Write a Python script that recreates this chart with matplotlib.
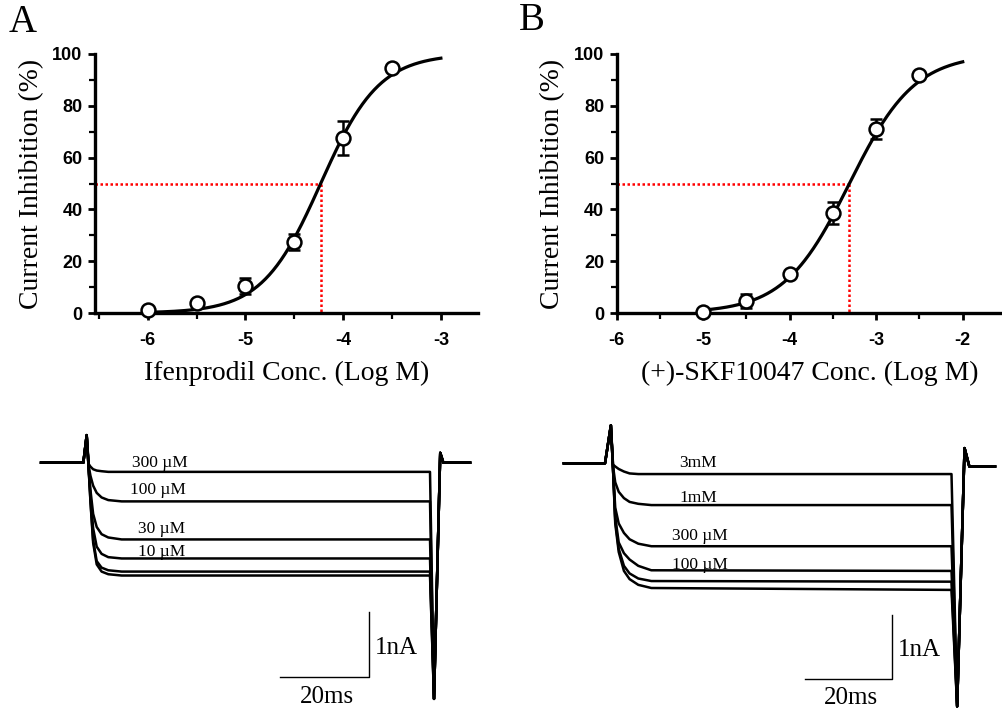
import numpy as np
import matplotlib
matplotlib.use("Agg")
import matplotlib.pyplot as plt
from matplotlib.ticker import MultipleLocator

plt.rcParams["axes.unicode_minus"] = False

# ---------------- Dose-response data ----------------
a_logc = [-6, -5.5, -5, -4.5, -4, -3.5]
a_inh = [1.3, 3.9, 10.5, 27.4, 67.5, 94.5]
a_err = [0.5, 0.8, 3.2, 3.2, 6.5, 0.8]
a_ic50 = -4.23
a_hill = 1.45
a_fit_range = [-6, -3]

b_logc = [-5, -4.5, -4, -3.5, -3, -2.5]
b_inh = [0.4, 4.5, 15.0, 38.6, 71.0, 92.0]
b_err = [0.5, 2.7, 1.0, 4.2, 3.9, 1.0]
b_ic50 = -3.31
b_hill = 1.15
b_fit_range = [-5, -2]

a_xticks = [-6, -5, -4, -3]
b_xticks = [-6, -5, -4, -3, -2]
yticks = [0, 20, 40, 60, 80, 100]

# ---------------- Current traces (ms, nA) ----------------
a_spike_t = [-10.1, -0.6, 0.15]
a_spike_v = [0.0, 0.0, 0.42]
a_tr_t = [0.6, 1.0, 1.6, 2.4, 3.5, 5.0, 8.0, 77.3]
a_ctrl = [-0.10, -0.60, -1.22, -1.55, -1.66, -1.70, -1.72, -1.72]
a_3uM = [-0.10, -0.58, -1.18, -1.50, -1.60, -1.64, -1.66, -1.66]
a_10uM = [-0.10, -0.50, -1.00, -1.28, -1.39, -1.44, -1.46, -1.46]
a_30uM = [-0.10, -0.42, -0.78, -0.98, -1.09, -1.14, -1.17, -1.17]
a_100uM = [-0.05, -0.20, -0.35, -0.46, -0.53, -0.57, -0.59, -0.59]
a_300uM = [-0.02, -0.06, -0.10, -0.12, -0.13, -0.14, -0.14, -0.14]
a_tail_t = [78.2, 79.6, 80.3, 86.3]
a_tail_v = [-3.6, 0.15, 0.0, 0.0]
a_labels = ["300 \u00b5M", "100 \u00b5M", "30 \u00b5M", "10 \u00b5M"]
a_label_t = [16.6, 16.2, 16.9, 16.9]
a_label_v = [0.0, -0.42, -1.01, -1.36]

b_spike_t = [-10.6, -1.15, 0.2]
b_spike_v = [0.0, 0.0, 0.6]
b_tr_t = [0.7, 1.2, 2.0, 3.2, 4.5, 6.5, 9.5, 78.5]
b_3mM = [-0.02, -0.05, -0.09, -0.13, -0.16, -0.17, -0.17, -0.17]
b_1mM = [-0.05, -0.30, -0.45, -0.55, -0.61, -0.64, -0.66, -0.66]
b_300uM = [-0.10, -0.70, -0.95, -1.10, -1.20, -1.27, -1.31, -1.31]
b_100uM = [-0.10, -0.85, -1.25, -1.42, -1.52, -1.62, -1.69, -1.70]
b_30uM = [-0.10, -0.90, -1.35, -1.62, -1.74, -1.82, -1.86, -1.87]
b_ctrl = [-0.10, -0.95, -1.40, -1.70, -1.83, -1.92, -1.97, -2.00]
b_tail_t = [79.8, 81.5, 82.6, 88.5]
b_tail_v = [-3.84, 0.24, -0.05, -0.05]
b_labels = ["3mM", "1mM", "300 \u00b5M", "100 \u00b5M"]
b_label_t = [20.2, 20.2, 20.7, 20.7]
b_label_v = [0.0, -0.55, -1.15, -1.61]

SERIF = "Liberation Serif"
SANS = "Liberation Sans"

W, H = 1002, 711
fig = plt.figure(figsize=(W / 100, H / 100), dpi=100)


def px_axes(x0, y0, x1, y1):
    return fig.add_axes([x0 / W, 1 - y1 / H, (x1 - x0) / W, (y1 - y0) / H])


def hill(x, ic50, n):
    return 100.0 / (1.0 + 10 ** ((ic50 - x) * n))


def dose_panel(ax, logc, inh, err, ic50, nh, fit_range, xlim, xticks, xlabel):
    ax.set_xlim(*xlim)
    ax.set_ylim(0, 100)
    for s in ["top", "right"]:
        ax.spines[s].set_visible(False)
    for s in ["left", "bottom"]:
        ax.spines[s].set_linewidth(2.4)
    xs = np.linspace(fit_range[0], fit_range[1], 300)
    ax.plot(xs, hill(xs, ic50, nh), color="black", lw=2.3, zorder=3, clip_on=False)
    # IC50 guides
    ax.plot([xlim[0], ic50], [50, 50], color="red", ls=(0, (1, 1.0)), lw=1.8, zorder=2)
    ax.plot([ic50, ic50], [50, 0], color="red", ls=(0, (1, 1.0)), lw=1.8, zorder=2)
    ax.errorbar(logc, inh, yerr=err, fmt="o", ms=10, mfc="white", mec="black",
                mew=1.8, ecolor="black", elinewidth=1.8, capsize=4.5, capthick=1.8,
                zorder=4, clip_on=False)
    ax.set_xticks(xticks)
    ax.set_yticks(yticks)
    ax.xaxis.set_minor_locator(MultipleLocator(0.5))
    ax.yaxis.set_minor_locator(MultipleLocator(10))
    ax.tick_params(which="major", direction="out", length=5, width=2)
    ax.tick_params(which="minor", direction="out", length=4, width=1.6)
    ax.tick_params(axis="x", which="major", pad=9)
    ax.tick_params(axis="y", which="major", pad=4)
    for lab in ax.get_xticklabels() + ax.get_yticklabels():
        lab.set_fontfamily(SANS)
        lab.set_fontweight("bold")
        lab.set_fontsize(13)
    ax.set_ylabel("Current Inhibition (%)", fontfamily=SERIF, fontsize=20, labelpad=6)
    ax.set_xlabel(xlabel, fontfamily=SERIF, fontsize=20, labelpad=8)


axA = px_axes(95, 54, 478, 313)
dose_panel(axA, a_logc, a_inh, a_err, a_ic50, a_hill, a_fit_range,
           (-6.54, -2.62), a_xticks, "Ifenprodil Conc. (Log M)")
axB = px_axes(616.7, 54, 1002, 313)
dose_panel(axB, b_logc, b_inh, b_err, b_ic50, b_hill, b_fit_range,
           (-6.0, -1.546), b_xticks, "(+)-SKF10047 Conc. (Log M)")

fig.text(23 / W, 1 - 22 / H, "A", fontfamily=SERIF, fontsize=28, ha="center", va="center")
fig.text(532 / W, 1 - 21 / H, "B", fontfamily=SERIF, fontsize=28, ha="center", va="center")


def trace_panel(ax, xlim, ylim, spike_t, spike_v, tr_t, traces, tail_t, tail_v,
                labels, lab_t, lab_v, bar_x, bar_y):
    ax.set_xlim(*xlim)
    ax.set_ylim(*ylim)
    ax.axis("off")
    for tr in traces:
        t = list(spike_t) + list(tr_t) + list(tail_t)
        v = list(spike_v) + list(tr) + list(tail_v)
        ax.plot(t, v, color="black", lw=1.8, solid_joinstyle="round")
    for lab, lt, lv in zip(labels, lab_t, lab_v):
        ax.text(lt, lv, lab, fontfamily=SERIF, fontsize=12.5, ha="center", va="center")
    # scale bar: 20 ms x 1 nA
    ax.plot([bar_x - 20, bar_x, bar_x], [bar_y, bar_y, bar_y + 1], color="black", lw=1.0)
    ax.text(bar_x + 1.2, bar_y + 0.45, "1nA", fontfamily=SERIF, fontsize=18,
            ha="left", va="center")
    ax.text(bar_x - 9.5, bar_y - 0.30, "20ms", fontfamily=SERIF, fontsize=18,
            ha="center", va="center")


axA2 = px_axes(0, 410, 500, 711)
trace_panel(axA2, (-19.33, 93.03), (-3.785, 0.803), a_spike_t, a_spike_v, a_tr_t,
            [a_ctrl, a_3uM, a_10uM, a_30uM, a_100uM, a_300uM], a_tail_t, a_tail_v,
            a_labels, a_label_t, a_label_v, 63.6, -3.27)

axB2 = px_axes(510, 410, 1002, 711)
trace_panel(axB2, (-22.99, 90.11), (-3.913, 0.842), b_spike_t, b_spike_v, b_tr_t,
            [b_ctrl, b_30uM, b_100uM, b_300uM, b_1mM, b_3mM], b_tail_t, b_tail_v,
            b_labels, b_label_t, b_label_v, 64.9, -3.40)

fig.savefig("out.png", dpi=100)
